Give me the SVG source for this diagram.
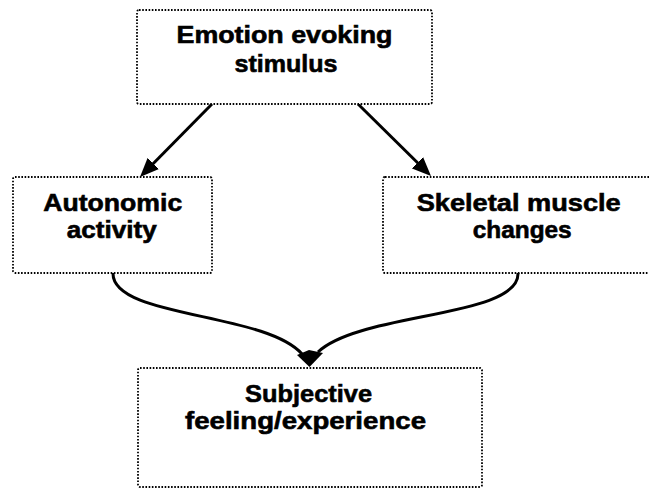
<svg xmlns="http://www.w3.org/2000/svg" width="649" height="488" viewBox="0 0 649 488">
<style>
.box{fill:#fff;stroke:#000;stroke-width:1.8;stroke-dasharray:1.6 1.6}
.lbl{font-family:"Liberation Sans",Arial,sans-serif;font-weight:bold;font-size:24.5px;fill:#000;stroke:#000;stroke-width:0.6}
.con{fill:none;stroke:#000;stroke-width:3}
</style>
<defs>
<marker id="ah" markerUnits="userSpaceOnUse" viewBox="0 0 19 16" refX="13" refY="8" markerWidth="19" markerHeight="16" orient="auto">
<path d="M0,0 L19,8 L0,16 z" fill="#000"/>
</marker>
</defs>
<rect width="649" height="488" fill="#fff"/>
<g id="connectors">
<line class="con" x1="212" y1="104" x2="144.2" y2="172.7" marker-end="url(#ah)"/>
<line class="con" x1="358" y1="104" x2="426.7" y2="171.8" marker-end="url(#ah)"/>
<path class="con" d="M113,273 C112,318 265,312 302,354"/>
<path class="con" d="M518,273 C520,318 360,312 318,352"/>
<polygon points="297,355 309,350 323,353 309.5,367" fill="#000"/>
</g>
<g id="stimulus">
<rect class="box" x="137" y="10" width="295" height="94" rx="2"/>
<text class="lbl" x="284.5" y="43.3" text-anchor="middle" textLength="216" lengthAdjust="spacingAndGlyphs">Emotion evoking</text>
<text class="lbl" x="286" y="72" text-anchor="middle" textLength="103" lengthAdjust="spacingAndGlyphs">stimulus</text>
</g>
<g id="autonomic">
<rect class="box" x="13" y="177" width="199" height="96" rx="2"/>
<text class="lbl" x="112.7" y="210.7" text-anchor="middle" textLength="139" lengthAdjust="spacingAndGlyphs">Autonomic</text>
<text class="lbl" x="111.7" y="238.3" text-anchor="middle" textLength="90" lengthAdjust="spacingAndGlyphs">activity</text>
</g>
<g id="skeletal">
<rect class="box" x="383" y="177" width="272" height="96" rx="2"/>
<text class="lbl" x="518.7" y="210.7" text-anchor="middle" textLength="204" lengthAdjust="spacingAndGlyphs">Skeletal muscle</text>
<text class="lbl" x="522.2" y="238.3" text-anchor="middle" textLength="99" lengthAdjust="spacingAndGlyphs">changes</text>
</g>
<g id="subjective">
<rect class="box" x="138" y="368" width="344" height="119" rx="2"/>
<text class="lbl" x="308.6" y="401.7" text-anchor="middle" textLength="127" lengthAdjust="spacingAndGlyphs">Subjective</text>
<text class="lbl" x="305.5" y="429.3" text-anchor="middle" textLength="241" lengthAdjust="spacingAndGlyphs">feeling/experience</text>
</g>
</svg>
